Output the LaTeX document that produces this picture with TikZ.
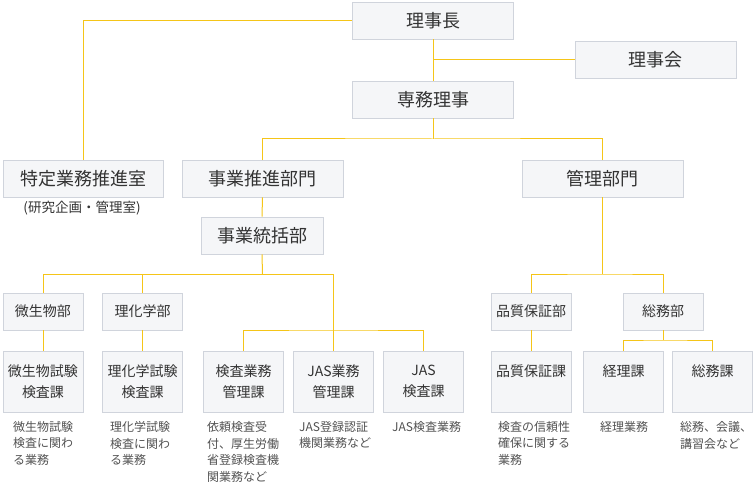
\documentclass[tikz,border=0pt]{standalone}
\usepackage{fontspec}
\setmainfont{Noto Sans CJK JP}
\usetikzlibrary{positioning}
\definecolor{linkyellow}{HTML}{F5C518}
\definecolor{boxfill}{HTML}{F5F6F8}
\definecolor{boxline}{HTML}{D0D4DC}
\definecolor{ink}{HTML}{333333}

\begin{document}
\begin{tikzpicture}[x=1pt, y=-1pt,
  link/.style={draw=linkyellow, line width=1pt},
  topbox/.style={draw=boxline, fill=boxfill, line width=0.8pt, minimum width=161pt,
    minimum height=37pt, inner sep=0pt, text=ink, font=\fontsize{18}{21}\selectfont},
  unitbox/.style={draw=boxline, fill=boxfill, line width=0.8pt, minimum width=80pt,
    minimum height=37pt, inner sep=0pt, text=ink, font=\fontsize{14}{17}\selectfont},
  secbox/.style={unitbox, minimum height=61pt, align=center, font=\fontsize{14}{21}\selectfont},
  note/.style={anchor=north west, align=left, inner sep=0pt, text=ink!85,
    font=\fontsize{12}{16.7}\selectfont}]

\useasboundingbox (0,0) rectangle (756,487);

% top management
\node[topbox] (chairman) at (433,20.5) {理事長};
\node[topbox] (board) at (655.5,59.8) {理事会};
\node[topbox] (director) at (433,99.5) {専務理事};

% divisions
\node[topbox, minimum width=160pt] (special) at (83,178.5) {特定業務推進室};
\node[text=ink, inner sep=0pt, font=\fontsize{13.5}{16}\selectfont] (speciallbl) at (82,208) {(研究企画・管理室)};
\node[topbox] (bizdiv) at (262.5,178.5) {事業推進部門};
\node[topbox] (admdiv) at (602.5,178.5) {管理部門};
\node[topbox, minimum width=122pt] (bizhq) at (262,235.5) {事業統括部};

% departments
\node[unitbox] (micro) at (43,311.5) {微生物部};
\node[unitbox] (chem) at (142.5,311.5) {理化学部};
\node[unitbox] (quality) at (531,311.5) {品質保証部};
\node[unitbox] (general) at (663,311.5) {総務部};

% sections
\node[secbox] (microsec) at (43,381.5) {微生物試験\\検査課};
\node[secbox] (chemsec) at (142.5,381.5) {理化学試験\\検査課};
\node[secbox] (inspsec) at (243.5,381.5) {検査業務\\管理課};
\node[secbox] (jasmgr) at (333.5,381.5) {JAS業務\\管理課};
\node[secbox] (jassec) at (423.5,381.5) {JAS\\検査課};
\node[secbox] (qasec) at (531,381.5) {品質保証課\\\phantom{検}};
\node[secbox] (acctsec) at (623.5,381.5) {経理課\\\phantom{検}};
\node[secbox] (gensec) at (712.5,381.5) {総務課\\\phantom{検}};

% duties
\node[note] (microtxt) at (13,421) {微生物試験\\検査に関わ\\る業務};
\node[note] (chemtxt) at (110,421) {理化学試験\\検査に関わ\\る業務};
\node[note] (insptxt) at (207,421) {依頼検査受\\付、厚生労働\\省登録検査機\\関業務など};
\node[note] (jasmgrtxt) at (299,421) {JAS登録認証\\機関業務など};
\node[note] (jastxt) at (392,421) {JAS検査業務};
\node[note] (qatxt) at (498,421) {検査の信頼性\\確保に関する\\業務};
\node[note] (accttxt) at (600,421) {経理業務};
\node[note] (gentxt) at (680,421) {総務、会議、\\講習会など};

% connectors
\coordinate (topfork) at (433,139);
\coordinate (bizfork) at (262.5,274);
\coordinate (inspfork) at (333.5,330);
\coordinate (admfork) at (602.5,274);
\coordinate (genfork) at (663,340);

\draw[link] (chairman.west) -| (special.north);
\draw[link] (chairman.south) -- (director.north);
\draw[link] (board.west) -- (board.west -| chairman.south);
\draw[link] (director.south) -- (topfork);
\draw[link] (bizdiv.north) |- (topfork) -| (admdiv.north);
\draw[link] (bizdiv.south) -- (bizhq.north);
\draw[link] (bizhq.south) -- (bizfork);
\draw[link] (micro.north) |- (bizfork -| jasmgr.north) -- (jasmgr.north);
\draw[link] (chem.north) -- (chem.north |- bizfork);
\draw[link] (inspsec.north) |- (inspfork) -| (jassec.north);
\draw[link] (micro.south) -- (microsec.north);
\draw[link] (chem.south) -- (chemsec.north);
\draw[link] (admdiv.south) -- (admfork);
\draw[link] (quality.north) |- (admfork) -| (general.north);
\draw[link] (quality.south) -- (qasec.north);
\draw[link] (general.south) -- (genfork);
\draw[link] (acctsec.north) |- (genfork) -| (gensec.north);
\end{tikzpicture}
\end{document}
